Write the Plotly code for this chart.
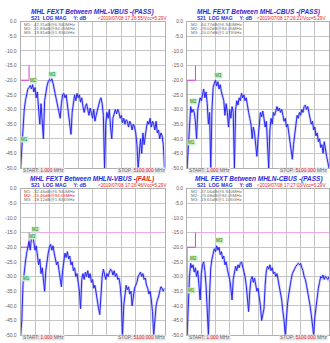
import numpy as np
import plotly.graph_objects as go

# ---------------- data ----------------
START_MHZ = 1.0
STOP_MHZ = 5100.0
N_POINTS = 121
freq = np.linspace(START_MHZ, STOP_MHZ, N_POINTS)  # linear VNA sweep grid

s21_mhl_vbus = [
    -50, -42, -38, -30, -27, -25, -23, -22.5, -21.8, -23,
    -21.5, -24, -22.5, -26, -24, -30, -35, -28, -36, -40,
    -27, -24, -22, -20.5, -19.8, -20.2, -19.5, -21, -23, -25,
    -27, -29, -32, -33, -28, -25, -24.5, -26, -25, -29,
    -33, -36, -38.5, -31, -27, -25, -27, -24.5, -26, -25,
    -27.5, -26, -29, -31, -29, -28, -30, -32, -29.5, -31,
    -33, -30, -34, -32, -30, -28, -27, -26, -28, -32,
    -50, -35, -31, -33, -30, -36, -40, -33, -31, -30,
    -31.5, -30, -31, -33, -32, -34.5, -33, -35, -33.5, -34,
    -36, -34, -35, -37, -35, -36, -38, -42, -50, -44,
    -40, -45, -38, -42, -38, -36, -34, -35, -33, -36,
    -34, -35, -37, -34, -38, -37, -40, -38, -39, -42,
    -50,
]
s21_mhl_cbus = [
    -50, -43, -35, -29, -31, -30, -31, -34, -40, -30,
    -28, -26, -27, -24.5, -23, -26, -24, -28, -35, -31,
    -50, -30, -22.5, -21, -20, -22, -20.5, -23, -21.5, -24,
    -25.5, -27, -32, -28, -31, -36, -30, -33, -29, -31,
    -50, -30, -27, -28.5, -26, -27, -24.5, -26, -25, -27,
    -26, -29, -31, -33, -35, -40, -36, -38, -42, -46,
    -40, -35, -31, -32.5, -30.5, -33, -36, -34, -42, -50,
    -37, -33, -35, -31, -32, -30, -29, -30.5, -29.5, -31,
    -30, -32, -34, -33, -36, -35, -38, -41, -43, -47,
    -42, -38, -34, -32, -33, -31, -32, -30, -31, -29,
    -28.5, -30, -29, -31, -33, -35, -34, -37, -36, -39,
    -38, -41, -40, -43, -42, -45, -41, -44, -46, -48,
    -50,
]
s21_mhln_vbus = [
    -50, -45, -32.5, -28, -25, -22, -20, -18, -21, -17,
    -15.6, -18, -21, -19.5, -23, -26, -24, -29, -27, -32,
    -35, -28, -24, -22, -20, -19, -21, -19.5, -22, -24,
    -26, -25, -28, -31, -33.5, -28, -24, -22, -23.5, -21.5,
    -24, -23, -26, -25, -28, -27, -30, -29, -32, -35,
    -41, -31, -29, -31, -28.5, -30, -28, -30.5, -29, -32,
    -31, -34, -33, -36, -38, -41, -43, -36, -30, -27.5,
    -29, -31, -29, -30, -28.5, -27.5, -28, -29.5, -28, -30,
    -29, -31, -30.5, -33, -38, -50, -40, -35, -33, -34.5,
    -33.5, -36, -35, -40, -36, -34, -33, -32, -30, -29,
    -28.5, -30, -29, -31, -30.5, -33, -34, -36, -35, -38,
    -42, -50, -44, -40, -38, -37, -35, -33.5, -34, -35,
    -34,
]
s21_mhln_cbus = [
    -50, -36.5, -30, -25.5, -27, -26, -28.5, -27, -30, -28,
    -33, -38, -29, -26, -25, -28, -33, -45, -50, -36,
    -27, -24, -22, -20.5, -21.5, -19.5, -21, -20, -22.5, -21.5,
    -24, -23, -26, -25, -27.5, -29, -31, -34, -38, -31,
    -28, -26.5, -28, -26, -27, -25.5, -25, -26.5, -28, -30,
    -33, -37, -42, -35, -31, -30, -32, -30.5, -33, -35,
    -34, -37, -40, -45, -43, -41, -33, -28, -26.5, -27.5,
    -26, -28, -27, -29, -28.5, -30, -29, -31, -33, -36,
    -38, -42, -45, -50, -43, -39, -36, -33, -31, -29,
    -28, -27, -26.5, -26, -25.5, -26, -25.5, -27, -28, -30,
    -31, -33, -35, -37, -40, -43, -47, -50, -44, -40,
    -37, -34, -32, -30, -30.5, -29.5, -31, -30, -30.5, -31,
    -30,
]

traces_db = [s21_mhl_vbus, s21_mhl_cbus, s21_mhln_vbus, s21_mhln_cbus]

title_main = [
    "MHL FEXT Between MHL-VBUS -",
    "MHL FEXT Between MHL-CBUS -",
    "MHL FEXT Between MHLN-VBUS -",
    "MHL FEXT Between MHLN-CBUS -",
]
verdicts = ["(PASS)", "(PASS)", "(FAIL)", "(PASS)"]
stamps = [
    "&lt;2019/07/08 17:26:55/Vcc=5.29V",
    "&lt;2019/07/08 17:26:21/Vcc=5.29V",
    "&lt;2019/07/08 17:26:46/Vcc=5.29V",
    "&lt;2019/07/08 17:27:03/Vcc=5.29V",
]
marker_readouts = [
    ["M1: -42.31dB@6.940MHz", "M2: -21.83dB@94.05MHz", "M3: -19.81dB@1.834GHz"],
    ["M1: -44.77dB@6.940MHz", "M2: -29.02dB@94.05MHz", "M3: -20.07dB@1.073GHz"],
    ["M1: -32.46dB@6.940MHz", "M2: -15.46dB@94.05MHz", "M3: -18.12dB@1.834GHz"],
    ["M1: -37.06dB@6.940MHz", "M2: -25.68dB@94.05MHz", "M3: -19.61dB@1.105GHz"],
]
marker_fail = [[False, False, False], [False, False, False],
               [False, True, False], [False, False, False]]
marker_names = ["M1", "M2", "M3"]
marker_index = [[1, 8, 24], [1, 3, 24], [2, 10, 7], [1, 3, 25]]

ytick_vals = [0, -5, -10, -15, -20, -25, -30, -35, -40, -45, -50]
ytick_text = ["0.0", "-5.0", "-10.0", "-15.0", "-20.0", "-25.0", "-30.0",
              "-35.0", "-40.0", "-45.0", "-50.0"]

limit_low_f = [1.0, 1.0, 300.0, 300.0]
limit_low_db = [-50, -20, -20, -15]
limit_high_f = [300.0, 5100.0]
limit_high_db = [-15, -15]

start_label = "1.000"
stop_label = "5100.000"

# ---------------- layout helpers ----------------
W, H = 330, 343
def px(x):
    return x / W
def py(y):
    return 1 - y / H

# panel plot-area origins (pixels): left, top(0 dB), width, height
panels = [(20.7, 19, 144.3, 149), (187.7, 19, 142.3, 149),
          (20.7, 189, 144.3, 149), (187.7, 189, 142.3, 149)]

BLUE = "#2828f0"
HALO = "rgba(110,110,255,0.35)"
FONT = "Liberation Sans, Arial, sans-serif"

fig = go.Figure()
annotations = []
shapes = []

for k in range(4):
    x0, y0, w, h = panels[k]
    xa = "x" if k == 0 else f"x{k+1}"
    ya = "y" if k == 0 else f"y{k+1}"
    ax_sfx = "" if k == 0 else str(k + 1)
    right_edge = min(W - 1, x0 + 149)

    fig.update_layout(**{
        f"xaxis{ax_sfx}": dict(
            domain=[px(x0), min(1.0, px(x0 + w))], anchor=ya,
            range=[START_MHZ, STOP_MHZ], tick0=START_MHZ,
            dtick=(STOP_MHZ - START_MHZ) / 10, showticklabels=False,
            showgrid=True, gridcolor="#c4c4c4", gridwidth=1, zeroline=False,
            showline=True, linecolor="#b0b0b0", mirror=True, ticks="",
            fixedrange=True),
        f"yaxis{ax_sfx}": dict(
            domain=[py(y0 + h), py(y0)], anchor=xa,
            range=[-50, 0], tickvals=ytick_vals, ticktext=ytick_text,
            tickfont=dict(size=5, color="#606060", family=FONT),
            showgrid=True, gridcolor="#c4c4c4", gridwidth=1, zeroline=False,
            showline=True, linecolor="#b0b0b0", mirror=True, ticks="",
            ticklabelstandoff=2, fixedrange=True),
    })

    # darker reference grid line at -30 dB
    shapes.append(dict(type="line", xref=f"{xa} domain", yref=ya,
                       x0=0, x1=1, y0=-30, y1=-30,
                       line=dict(color="#8c8c8c", width=1), layer="below"))

    # limit lines
    fig.add_trace(go.Scatter(x=limit_high_f, y=limit_high_db, mode="lines",
                             line=dict(color="#f0a8f0", width=1),
                             xaxis=xa, yaxis=ya, hoverinfo="skip",
                             showlegend=False))
    fig.add_trace(go.Scatter(x=limit_low_f, y=limit_low_db, mode="lines",
                             line=dict(color="#e03ae0", width=1),
                             xaxis=xa, yaxis=ya, hoverinfo="skip",
                             showlegend=False))

    # measured trace (soft halo + core line)
    db = traces_db[k]
    fig.add_trace(go.Scatter(x=freq, y=db, mode="lines",
                             line=dict(color=HALO, width=2.6),
                             xaxis=xa, yaxis=ya, hoverinfo="skip",
                             showlegend=False))
    fig.add_trace(go.Scatter(x=freq, y=db, mode="lines",
                             line=dict(color=BLUE, width=1),
                             xaxis=xa, yaxis=ya, showlegend=False))

    # marker flags
    for m in range(3):
        i = marker_index[k][m]
        annotations.append(dict(
            x=freq[i], y=db[i], xref=xa, yref=ya, text=marker_names[m],
            showarrow=False, xshift=3, yshift=5,
            font=dict(size=4.5, color="#137a13", family=FONT),
            bgcolor="#c9efc9", borderpad=0))

    # title
    vcol = "#e81818" if verdicts[k] == "(FAIL)" else "#2a2ad8"
    annotations.append(dict(
        x=px(x0 + 72), y=py(y0 - 10), xref="paper", yref="paper",
        text=f"<b><i>{title_main[k]}<span style='color:{vcol}'>{verdicts[k]}</span></i></b>",
        showarrow=False, xanchor="center", yanchor="middle",
        font=dict(size=6.5, color="#2a2ad8", family=FONT)))
    # header line
    annotations.append(dict(
        x=px(x0 + 8), y=py(y0 - 3.5), xref="paper", yref="paper",
        text="<b>S21  LOG MAG     Y: dB</b>", showarrow=False,
        xanchor="left", yanchor="middle",
        font=dict(size=5, color="#2a2ad8", family=FONT)))
    annotations.append(dict(
        x=px(right_edge), y=py(y0 - 3.5), xref="paper", yref="paper",
        text=stamps[k], showarrow=False, xanchor="right", yanchor="middle",
        font=dict(size=4.6, color="#e81818", family=FONT)))
    # marker readouts
    for m in range(3):
        col = "#e81818" if marker_fail[k][m] else "#6a6a6a"
        annotations.append(dict(
            x=px(x0 + 1.5), y=py(y0 + 2.5 + 4.5 * m), xref="paper",
            yref="paper", text=marker_readouts[k][m], showarrow=False,
            xanchor="left", yanchor="middle",
            font=dict(size=4.4, color=col, family=FONT)))
    # start / stop labels
    annotations.append(dict(
        x=px(x0 + 1), y=py(y0 + h + 2.5), xref="paper", yref="paper",
        text=f"START: <span style='color:#e81818'>{start_label}</span> MHz",
        showarrow=False, xanchor="left", yanchor="middle",
        font=dict(size=4.8, color="#6a6a6a", family=FONT),
        bgcolor="#e6e6e6", borderpad=0))
    annotations.append(dict(
        x=px(min(W - 1, x0 + 146)), y=py(y0 + h + 2.5), xref="paper",
        yref="paper",
        text=f"STOP: <span style='color:#e81818'>{stop_label}</span> MHz",
        showarrow=False, xanchor="right", yanchor="middle",
        font=dict(size=4.8, color="#6a6a6a", family=FONT),
        bgcolor="#e6e6e6", borderpad=0))

fig.update_layout(
    width=W, height=H, margin=dict(l=0, r=0, t=0, b=0),
    paper_bgcolor="white", plot_bgcolor="white",
    annotations=annotations, shapes=shapes, showlegend=False,
    font=dict(family=FONT),
)

fig.write_html(
    "out.html",
    config={"displayModeBar": False},
    post_script="document.body.style.margin='0';document.body.style.overflow='hidden';",
)
